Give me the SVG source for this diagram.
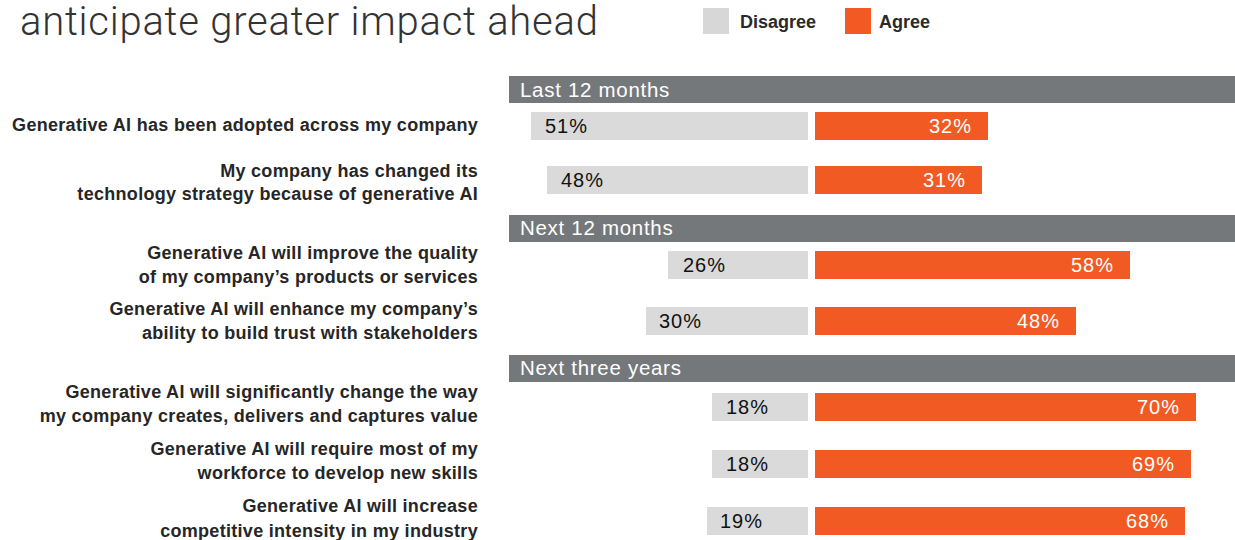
<svg xmlns="http://www.w3.org/2000/svg" width="1235" height="540" viewBox="0 0 1235 540">
<style>
.title{font-family:Roboto,"Liberation Sans",Arial,sans-serif;font-weight:300;font-size:40px;fill:#333333}
.leg{font-family:"Liberation Sans",Arial,sans-serif;font-weight:bold;font-size:18px;fill:#2a2a2a}
.hdr{fill:#75787b}
.hdrt{font-family:"Liberation Sans",Arial,sans-serif;font-size:20.5px;letter-spacing:0.7px;fill:#ffffff}
.lbl{font-family:"Liberation Sans",Arial,sans-serif;font-weight:bold;font-size:18px;letter-spacing:0.3px;fill:#262626;text-anchor:end}
.dis{fill:#d9dad9}
.agr{fill:#f15a22}
.dt{font-family:"Liberation Sans",Arial,sans-serif;font-size:20px;letter-spacing:1px;fill:#111111}
.at{font-family:"Liberation Sans",Arial,sans-serif;font-size:20px;letter-spacing:1px;fill:#ffffff;text-anchor:end}
</style>
<rect width="1235" height="540" fill="#ffffff"/>
<text class="title" x="20" y="35" textLength="578" lengthAdjust="spacing">anticipate greater impact ahead</text>
<g id="legend">
<rect x="703" y="8" width="26" height="26" fill="#d6d7d6"/>
<text class="leg" x="740" y="28">Disagree</text>
<rect x="845" y="8" width="26" height="26" fill="#f15a22"/>
<text class="leg" x="879" y="28">Agree</text>
</g>
<g id="header-last12">
<rect class="hdr" x="509" y="76" width="726" height="27"/>
<text class="hdrt" x="520" y="97">Last 12 months</text>
</g>
<g id="header-next12">
<rect class="hdr" x="509" y="215" width="726" height="27"/>
<text class="hdrt" x="520" y="235">Next 12 months</text>
</g>
<g id="header-next3">
<rect class="hdr" x="509" y="355" width="726" height="27"/>
<text class="hdrt" x="520" y="375">Next three years</text>
</g>
<g id="row1">
<text class="lbl" x="478" y="131">Generative AI has been adopted across my company</text>
<rect class="dis" x="531" y="112" width="277" height="28"/>
<rect class="agr" x="815" y="112" width="173" height="28"/>
<text class="dt" x="545" y="133">51%</text>
<text class="at" x="972" y="133">32%</text>
</g>
<g id="row2">
<text class="lbl" x="478" y="177">My company has changed its</text>
<text class="lbl" x="478" y="200">technology strategy because of generative AI</text>
<rect class="dis" x="547" y="166" width="261" height="28"/>
<rect class="agr" x="815" y="166" width="167" height="28"/>
<text class="dt" x="561" y="187">48%</text>
<text class="at" x="966" y="187">31%</text>
</g>
<g id="row3">
<text class="lbl" x="478" y="259">Generative AI will improve the quality</text>
<text class="lbl" x="478" y="283">of my company’s products or services</text>
<rect class="dis" x="668" y="251" width="140" height="28"/>
<rect class="agr" x="815" y="251" width="315" height="28"/>
<text class="dt" x="683" y="272">26%</text>
<text class="at" x="1114" y="272">58%</text>
</g>
<g id="row4">
<text class="lbl" x="478" y="315">Generative AI will enhance my company’s</text>
<text class="lbl" x="478" y="339">ability to build trust with stakeholders</text>
<rect class="dis" x="646" y="307" width="162" height="28"/>
<rect class="agr" x="815" y="307" width="261" height="28"/>
<text class="dt" x="659" y="328">30%</text>
<text class="at" x="1060" y="328">48%</text>
</g>
<g id="row5">
<text class="lbl" x="478" y="398">Generative AI will significantly change the way</text>
<text class="lbl" x="478" y="422">my company creates, delivers and captures value</text>
<rect class="dis" x="712" y="393" width="96" height="28"/>
<rect class="agr" x="815" y="393" width="381" height="28"/>
<text class="dt" x="726" y="414">18%</text>
<text class="at" x="1180" y="414">70%</text>
</g>
<g id="row6">
<text class="lbl" x="478" y="455">Generative AI will require most of my</text>
<text class="lbl" x="478" y="479">workforce to develop new skills</text>
<rect class="dis" x="712" y="450" width="96" height="28"/>
<rect class="agr" x="815" y="450" width="376" height="28"/>
<text class="dt" x="726" y="471">18%</text>
<text class="at" x="1175" y="471">69%</text>
</g>
<g id="row7">
<text class="lbl" x="478" y="512">Generative AI will increase</text>
<text class="lbl" x="478" y="537">competitive intensity in my industry</text>
<rect class="dis" x="707" y="507" width="101" height="28"/>
<rect class="agr" x="815" y="507" width="370" height="28"/>
<text class="dt" x="720" y="528">19%</text>
<text class="at" x="1169" y="528">68%</text>
</g>
</svg>
